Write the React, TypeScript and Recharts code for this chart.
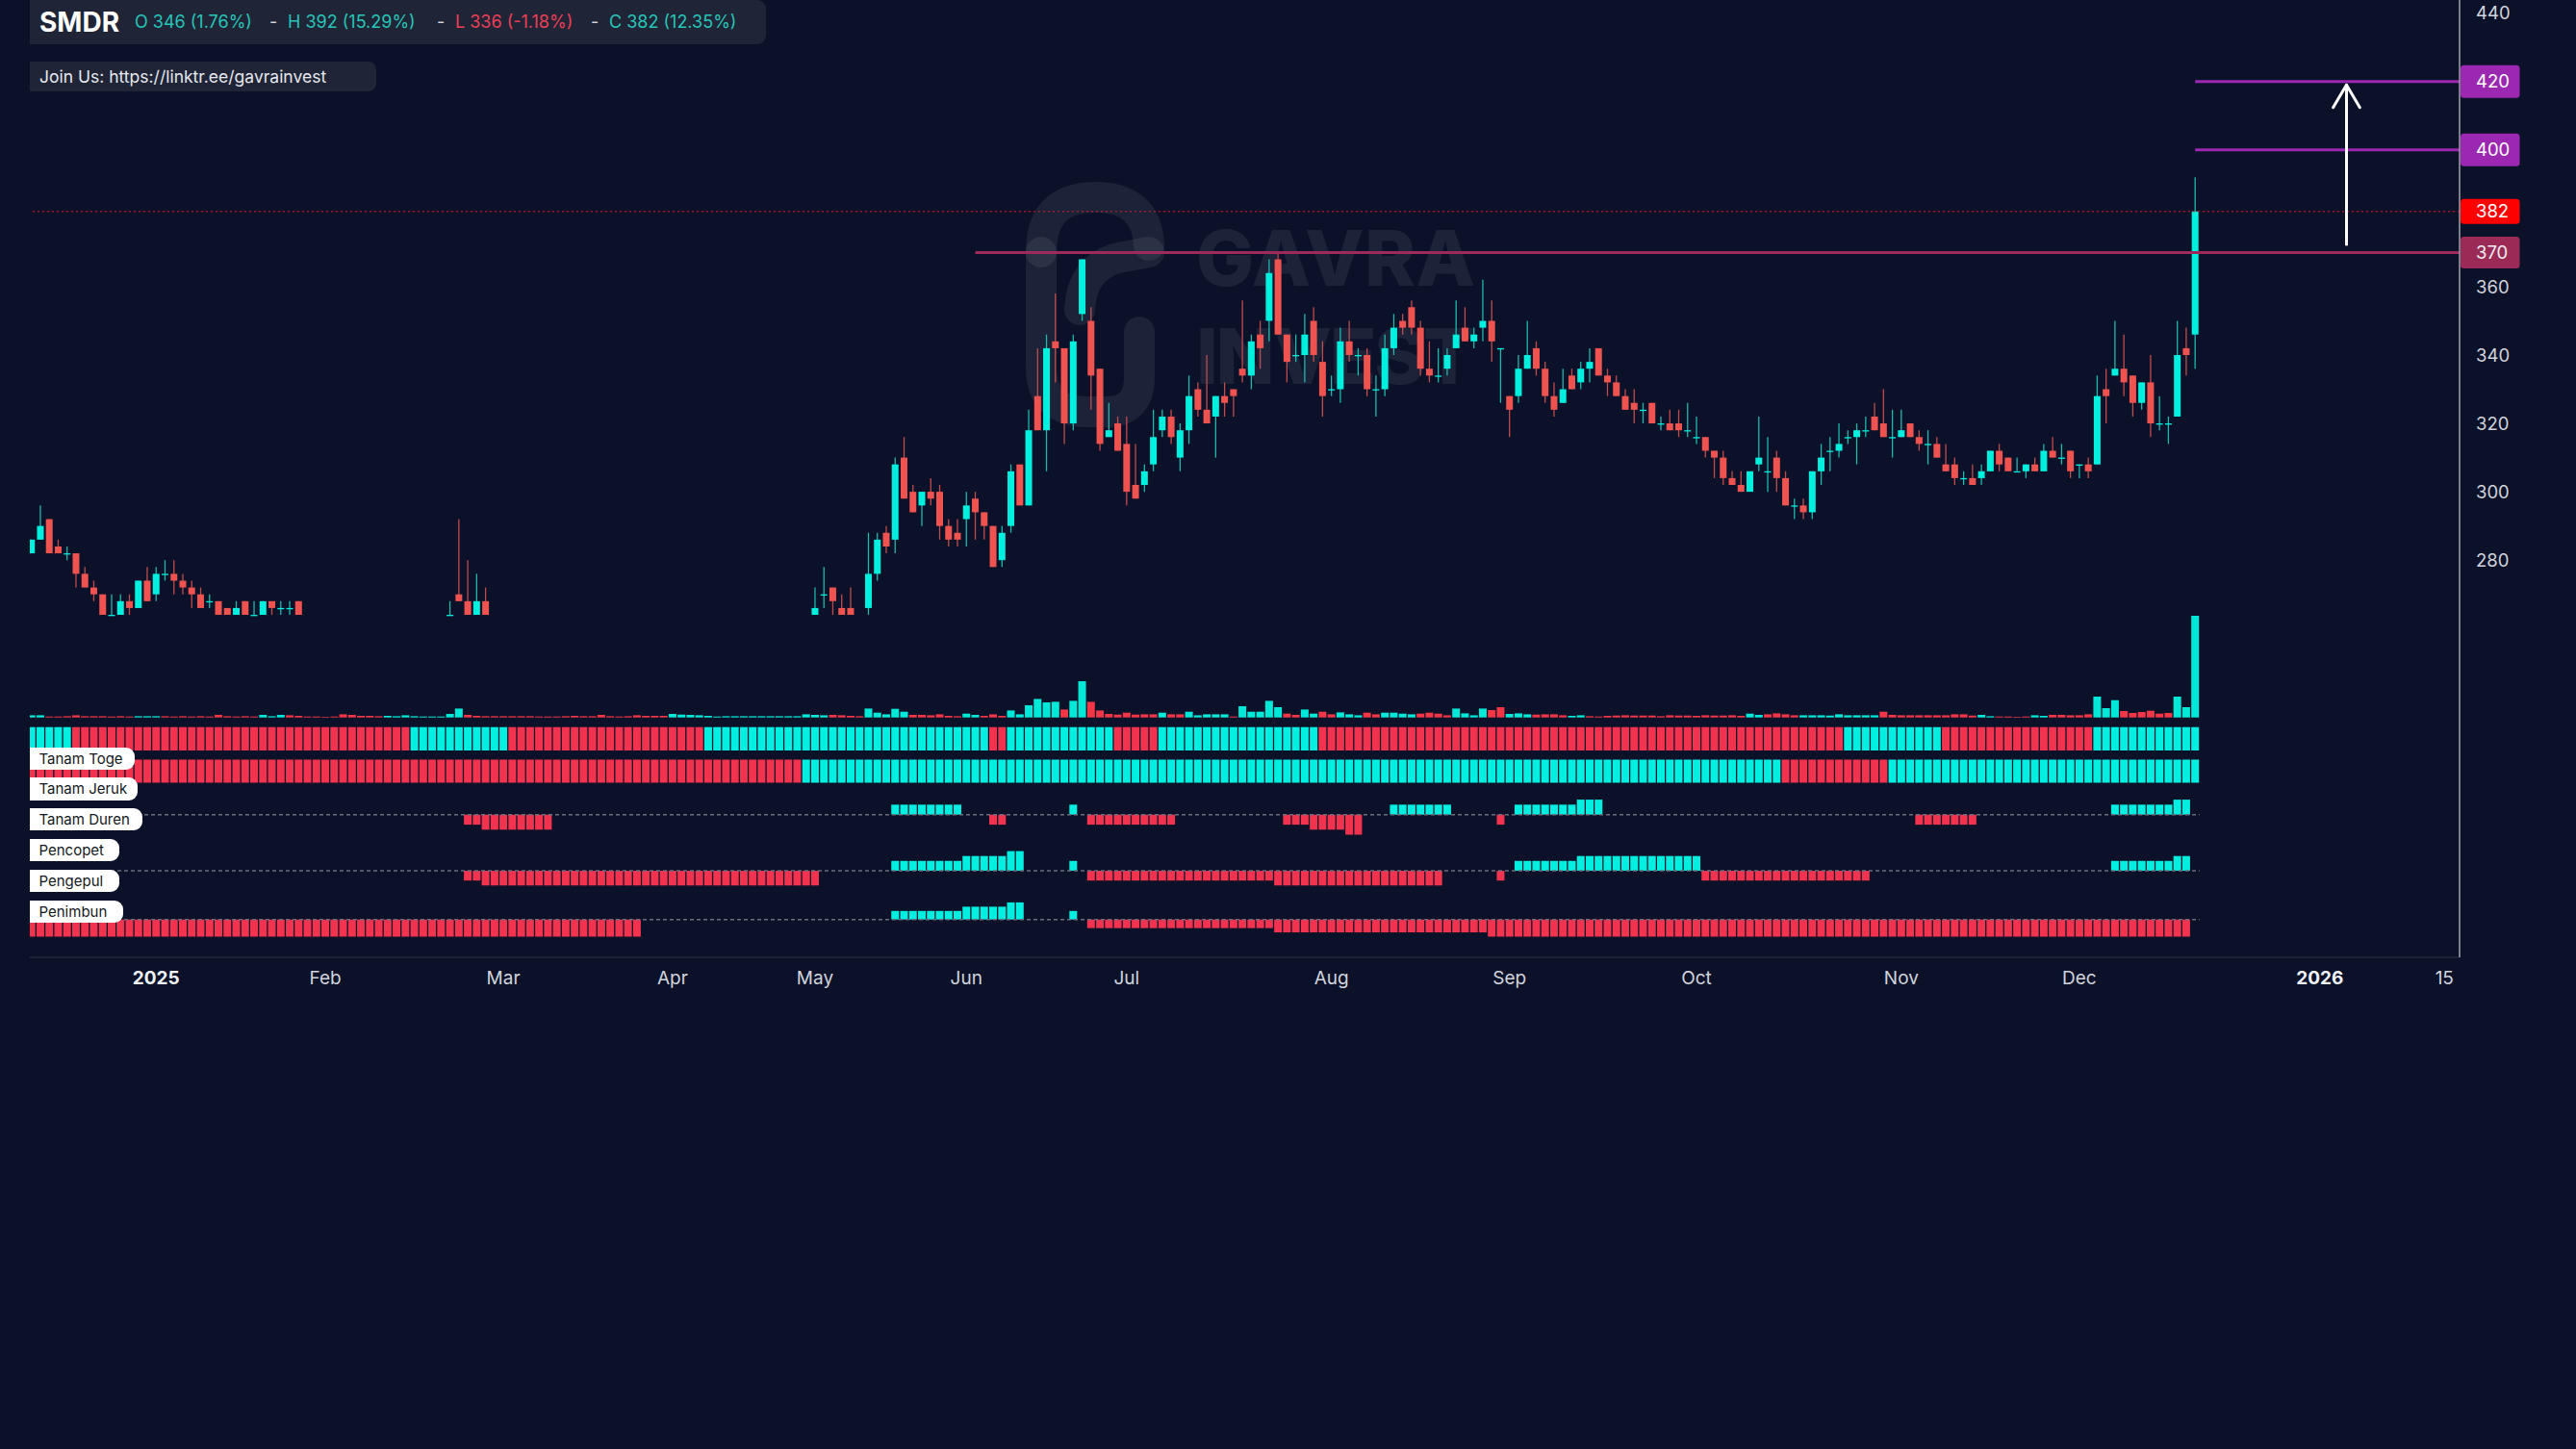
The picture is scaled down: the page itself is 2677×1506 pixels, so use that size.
import React from 'react';
import { ComposedChart, Bar, XAxis, YAxis, ReferenceLine } from 'recharts';

// ================= DATA =================
// x-axis: trading-bar index; month ticks
const X_TICKS = [14, 33, 53, 72, 88, 105, 123, 146, 166, 187, 210, 230, 257, 271];
const X_TICK_LABELS = ['2025', 'Feb', 'Mar', 'Apr', 'May', 'Jun', 'Jul', 'Aug', 'Sep', 'Oct', 'Nov', 'Dec', '2026', '15'];
const BOLD_TICKS = ['2025', '2026'];
const PRICE_TICKS = [280, 300, 320, 340, 360, 440];

// OHLC per bar: [open, high, low, close]; null = bar not drawn
const OHLC: (number[] | null)[] = [
  // 0-9
  [282,286,282,286],[286,296,286,290],[292,292,282,282],[284,286,282,282],[282,284,280,282],[282,282,272,276],[276,278,272,272],[272,274,268,270],[270,270,264,264],[264,270,264,264],
  // 10-19
  [264,270,264,268],[268,270,264,266],[266,274,266,274],[274,278,268,268],[270,278,268,276],[276,280,274,276],[276,280,270,274],[274,276,270,272],[272,274,266,270],[270,272,266,266],
  // 20-29
  [268,270,266,268],[268,268,264,264],[266,266,264,264],[264,268,264,266],[268,268,264,264],[264,268,264,264],[264,268,264,268],[268,268,264,266],[266,268,264,266],[266,268,264,266],
  // 30-39
  [268,268,264,264],null,null,null,null,null,null,null,null,null,
  // 40-49
  null,null,null,null,null,null,null,[264,268,264,264],[270,292,268,268],[268,280,264,264],
  // 50-59
  [264,276,264,268],[268,272,264,264],null,null,null,null,null,null,null,null,
  // 60-69
  null,null,null,null,null,null,null,null,null,null,
  // 70-79
  null,null,null,null,null,null,null,null,null,null,
  // 80-89
  null,null,null,null,null,null,null,null,[264,272,264,266],[270,278,266,270],
  // 90-99
  [272,272,264,268],[266,270,264,264],[266,272,264,264],null,[266,288,264,276],[276,288,274,286],[288,290,282,284],[286,310,282,308],[310,316,298,298],[300,302,294,294],
  // 100-109
  [296,300,290,300],[300,304,296,298],[300,302,286,290],[290,292,284,286],[288,292,284,286],[292,300,284,296],[298,300,286,294],[294,294,286,290],[290,290,278,278],[280,290,278,288],
  // 110-119
  [290,308,288,306],[308,308,296,296],[296,324,296,318],[328,342,318,318],[318,346,306,342],[344,358,332,342],[342,342,314,320],[320,346,318,344],[352,368,350,368],[350,354,324,334],
  // 120-129
  [336,336,312,314],[316,326,316,318],[320,322,312,312],[314,322,296,300],[302,314,298,298],[302,308,300,306],[308,324,306,316],[318,324,316,322],[322,324,314,316],[310,320,306,318],
  // 130-139
  [318,334,314,328],[330,332,322,324],[324,340,320,320],[322,328,310,328],[328,332,322,326],[330,330,322,328],[336,356,332,334],[334,346,330,344],[346,350,336,342],[350,368,344,364],
  // 140-149
  [368,370,346,346],[346,346,332,338],[340,346,338,340],[340,352,332,346],[350,354,338,340],[338,344,322,328],[330,334,328,330],[330,348,326,344],[344,350,338,340],[340,342,334,340],
  // 150-159
  [340,342,328,330],[330,334,322,330],[330,346,328,342],[342,352,340,348],[350,352,346,348],[354,356,346,348],[348,350,334,336],[336,344,332,334],[334,342,332,334],[336,342,334,340],
  // 160-169
  [342,356,342,346],[348,354,344,344],[344,348,342,346],[348,362,344,350],[350,356,338,344],[342,342,326,342],[328,328,316,324],[328,340,326,336],[336,350,336,340],[342,344,334,336],
  // 170-179
  [336,338,326,328],[328,332,322,324],[326,336,326,330],[334,336,330,330],[332,338,330,336],[336,342,332,338],[342,342,334,334],[334,336,328,332],[332,334,328,328],[328,330,324,324],
  // 180-189
  [326,330,320,324],[324,326,320,324],[326,326,320,320],[320,322,318,320],[320,324,318,318],[320,324,316,318],[318,326,316,318],[316,322,314,316],[316,316,310,312],[312,312,304,310],
  // 190-199
  [310,312,302,304],[304,306,302,302],[302,306,300,300],[300,306,300,306],[308,322,306,310],[306,316,300,306],[310,312,300,304],[304,306,296,296],[296,298,292,296],[296,298,292,294],
  // 200-209
  [294,306,292,306],[306,314,302,310],[312,316,306,312],[312,320,310,314],[316,318,314,316],[316,320,308,318],[318,322,316,318],[322,326,318,318],[320,330,316,316],[316,324,310,316],
  // 210-219
  [316,324,316,318],[320,320,316,316],[316,318,312,314],[314,318,308,314],[314,316,310,310],[308,314,306,306],[308,310,302,304],[304,306,302,304],[304,308,302,302],[304,308,302,306],
  // 220-229
  [306,312,306,312],[312,314,306,308],[310,310,306,306],[306,310,306,306],[306,308,304,308],[308,310,306,306],[306,314,306,312],[312,316,310,310],[310,314,308,310],[312,312,304,306],
  // 230-239
  [308,308,304,308],[308,310,304,306],[308,334,308,328],[330,336,320,328],[334,350,334,336],[336,346,328,332],[334,334,322,326],[326,332,324,332],[332,340,316,320],[320,328,318,320],
  // 240-243
  [320,322,314,320],[322,350,322,340],[342,348,334,340],[346,392,336,382],
];

// Volume (millions of shares) per bar
const VOLUME: number[] = [
  2.3,2.3,1.0,1.0,1.3,2.3,1.3,1.3,1.3,1.0,
  1.3,1.0,1.3,1.3,1.3,1.3,1.0,1.3,1.0,1.3,
  1.0,2.7,1.3,1.0,1.3,1.0,2.7,1.3,2.7,2.3,
  1.7,1.0,1.0,0.7,1.0,3.3,2.7,1.7,1.7,1.3,
  1.7,1.3,2.3,1.3,1.0,1.0,1.0,3.7,9.3,2.7,
  1.7,1.3,1.3,1.3,1.3,1.3,1.3,1.0,1.0,1.0,
  1.3,1.7,1.3,1.3,2.7,1.3,1.0,1.3,2.3,1.7,
  1.7,1.7,3.7,3.0,2.7,2.3,1.7,1.0,1.3,1.3,
  1.3,1.3,1.3,1.3,1.3,1.3,1.3,3.3,2.7,2.3,
  2.7,2.3,1.7,1.3,9.3,5.0,3.3,9.0,6.0,2.7,
  2.7,2.3,3.3,1.7,1.3,4.0,2.7,1.7,3.3,1.7,
  7.3,3.3,12.7,19.3,15.7,16.3,8.3,17.3,37.7,16.3,
  7.3,3.7,3.0,5.0,3.0,3.3,3.3,5.0,3.3,3.3,
  6.0,2.3,3.3,3.3,3.3,1.0,11.7,6.0,6.0,17.3,
  10.7,4.0,2.7,8.3,4.0,6.0,3.3,5.3,3.3,2.3,
  5.0,3.3,5.0,5.0,4.0,3.3,4.0,5.0,4.0,2.3,
  9.3,4.3,2.3,9.3,7.7,10.7,3.7,4.3,3.3,3.0,
  3.3,3.3,2.3,1.7,2.3,1.3,1.0,1.7,2.0,2.3,
  2.0,2.0,2.0,1.3,2.3,2.0,2.0,1.7,2.3,2.0,
  2.0,2.3,1.7,4.0,2.7,3.3,4.3,3.3,2.3,2.3,
  2.3,2.3,2.0,3.3,2.3,2.3,2.3,2.3,6.0,2.7,
  2.3,2.3,2.3,2.3,2.3,2.3,3.3,3.3,2.0,2.7,
  1.3,1.0,1.0,0.7,1.0,2.3,1.7,2.7,2.7,2.3,
  2.3,3.3,21.7,9.7,18.0,6.7,4.7,5.7,7.0,4.0,
  4.7,21.7,10.7,105.7,
];
// volume colour per bar: u = up (teal), d = down (red)
const VOLUME_DIR = [
  'uudddddddd','dduuuddddd','dddddduuud','dddddddddd','uuuuuuuuud',
  'dddddddddd','dddddddddd','dduuuuuuuu','uuuuuuuuuu','dddduuuuud',
  'ddddduuddd','uuuuuuduud','dddddddudd','uuuuuduuuu','udduudduuu',
  'dduuuudddd','uuuudduuud','ddduuddddd','dddddddddd','ddduuddddu',
  'uuuuuuuudd','dddddddddu','udddduuddd','dduuuddddd','duuu',
].join('');

// Tanam Toge / Tanam Jeruk state per bar: + bullish, - bearish
const TANAM_TOGE = [
  '+++++-----','----------','----------','----------','---+++++++',
  '++++------','----------','------++++','++++++++++','++++++++++',
  '++++++++--','++++++++++','++-----+++','++++++++++','+++++-----',
  '----------','----------','----------','----------','----------',
  '----++++++','+++++-----','----------','--++++++++','++++',
].join('');
const TANAM_JERUK = [
  '----------','----------','----------','----------','----------',
  '----------','----------','----------','-------+++','++++++++++',
  '++++++++++','++++++++++','++++++++++','++++++++++','++++++++++',
  '++++++++++','++++++++++','++++++++++','++++++++++','+++++++---',
  '---------+','++++++++++','++++++++++','++++++++++','++++',
].join('');

// Tanam Duren histogram
const TANAM_DUREN: number[] = [
  0,0,0,0,0,0,0,0,0,0,
  0,0,0,0,0,0,0,0,0,0,
  0,0,0,0,0,0,0,0,0,0,
  0,0,0,0,0,0,0,0,0,0,
  0,0,0,0,0,0,0,0,0,-2,
  -2,-3,-3,-3,-3,-3,-3,-3,-3,0,
  0,0,0,0,0,0,0,0,0,0,
  0,0,0,0,0,0,0,0,0,0,
  0,0,0,0,0,0,0,0,0,0,
  0,0,0,0,0,0,0,2,2,2,
  2,2,2,2,2,0,0,0,-2,-2,
  0,0,0,0,0,0,0,2,0,-2,
  -2,-2,-2,-2,-2,-2,-2,-2,-2,0,
  0,0,0,0,0,0,0,0,0,0,
  0,-2,-2,-2,-3,-3,-3,-3,-4,-4,
  0,0,0,2,2,2,2,2,2,2,
  0,0,0,0,0,-2,0,2,2,2,
  2,2,2,2,3,3,3,0,0,0,
  0,0,0,0,0,0,0,0,0,0,
  0,0,0,0,0,0,0,0,0,0,
  0,0,0,0,0,0,0,0,0,0,
  0,0,-2,-2,-2,-2,-2,-2,-2,0,
  0,0,0,0,0,0,0,0,0,0,
  0,0,0,0,2,2,2,2,2,2,
  2,3,3,0,
];

// Pengepul histogram
const PENGEPUL: number[] = [
  0,0,0,0,0,0,0,0,0,0,
  0,0,0,0,0,0,0,0,0,0,
  0,0,0,0,0,0,0,0,0,0,
  0,0,0,0,0,0,0,0,0,0,
  0,0,0,0,0,0,0,0,0,-2,
  -2,-3,-3,-3,-3,-3,-3,-3,-3,-3,
  -3,-3,-3,-3,-3,-3,-3,-3,-3,-3,
  -3,-3,-3,-3,-3,-3,-3,-3,-3,-3,
  -3,-3,-3,-3,-3,-3,-3,-3,-3,0,
  0,0,0,0,0,0,0,2,2,2,
  2,2,2,2,2,3,3,3,3,3,
  4,4,0,0,0,0,0,2,0,-2,
  -2,-2,-2,-2,-2,-2,-2,-2,-2,-2,
  -2,-2,-2,-2,-2,-2,-2,-2,-2,-2,
  -3,-3,-3,-3,-3,-3,-3,-3,-3,-3,
  -3,-3,-3,-3,-3,-3,-3,-3,-3,0,
  0,0,0,0,0,-2,0,2,2,2,
  2,2,2,2,3,3,3,3,3,3,
  3,3,3,3,3,3,3,3,-2,-2,
  -2,-2,-2,-2,-2,-2,-2,-2,-2,-2,
  -2,-2,-2,-2,-2,-2,-2,0,0,0,
  0,0,0,0,0,0,0,0,0,0,
  0,0,0,0,0,0,0,0,0,0,
  0,0,0,0,2,2,2,2,2,2,
  2,3,3,0,
];

// Penimbun histogram
const PENIMBUN: number[] = [
  -4,-4,-4,-4,-4,-4,-4,-4,-4,-4,
  -4,-4,-4,-4,-4,-4,-4,-4,-4,-4,
  -4,-4,-4,-4,-4,-4,-4,-4,-4,-4,
  -4,-4,-4,-4,-4,-4,-4,-4,-4,-4,
  -4,-4,-4,-4,-4,-4,-4,-4,-4,-4,
  -4,-4,-4,-4,-4,-4,-4,-4,-4,-4,
  -4,-4,-4,-4,-4,-4,-4,-4,-4,0,
  0,0,0,0,0,0,0,0,0,0,
  0,0,0,0,0,0,0,0,0,0,
  0,0,0,0,0,0,0,2,2,2,
  2,2,2,2,2,3,3,3,3,3,
  4,4,0,0,0,0,0,2,0,-2,
  -2,-2,-2,-2,-2,-2,-2,-2,-2,-2,
  -2,-2,-2,-2,-2,-2,-2,-2,-2,-2,
  -3,-3,-3,-3,-3,-3,-3,-3,-3,-3,
  -3,-3,-3,-3,-3,-3,-3,-3,-3,-3,
  -3,-3,-3,-3,-4,-4,-4,-4,-4,-4,
  -4,-4,-4,-4,-4,-4,-4,-4,-4,-4,
  -4,-4,-4,-4,-4,-4,-4,-4,-4,-4,
  -4,-4,-4,-4,-4,-4,-4,-4,-4,-4,
  -4,-4,-4,-4,-4,-4,-4,-4,-4,-4,
  -4,-4,-4,-4,-4,-4,-4,-4,-4,-4,
  -4,-4,-4,-4,-4,-4,-4,-4,-4,-4,
  -4,-4,-4,-4,-4,-4,-4,-4,-4,-4,
  -4,-4,-4,0,
];

// price levels
const LAST_PRICE = 382;
const SUPPORT_LEVEL = 370;
const SUPPORT_START = 106;
const TARGET_LEVELS = [420, 400];
const TARGET_START = 243;
const ARROW_X = 260;
const ARROW_FROM = 372;
const ARROW_TO = 419;

// header texts
const SYMBOL = 'SMDR';
const OHLC_TEXT = [
  { t: 'O 346 (1.76%)', up: true, left: 140 },
  { t: 'H 392 (15.29%)', up: true, left: 299 },
  { t: 'L 336 (-1.18%)', up: false, left: 473 },
  { t: 'C 382 (12.35%)', up: true, left: 633 },
];
const DASH_POS = [283, 457, 617];
const JOIN_TEXT = 'Join Us: https://linktr.ee/gavrainvest';
const IND_LABELS = [
  { t: 'Tanam Toge', top: 776.7, w: 108.5 },
  { t: 'Tanam Jeruk', top: 808.3, w: 112.2 },
  { t: 'Tanam Duren', top: 840, w: 117.3 },
  { t: 'Pencopet', top: 872, w: 93 },
  { t: 'Pengepul', top: 904, w: 93 },
  { t: 'Penimbun', top: 936, w: 96.8 },
];

// ================= STYLE / LAYOUT =================
const BG = '#0a1128';
const PANEL = '#1f2437';
const TEAL = '#00f0df';
const RED = '#ef5350';
const TEAL_WICK = '#1fb8ad';
const RED_WICK = '#c24c4d';
const IND_TEAL = '#00efe0';
const IND_RED = '#f2334f';
const VOL_TEAL = '#00e8d8';
const VOL_RED = '#f23645';
const AXIS_COLOR = '#9fa3ad';
const SEP_COLOR = '#2f3445';
const TXT = '#d1d4dc';
const FONT = 'Inter, "Noto Sans", Roboto, sans-serif';
const WM = 'rgba(255,255,255,0.075)';

const CHART_W = 2677;
const CHART_H = 1045;
const X_MIN = -0.184;
const X_MAX = 272.7;
const PRICE_DOMAIN = [163.81, 443.86];
const VOL_DOMAIN = [-249.3, 745.7];
const TOGE_DOMAIN = [-8.848, 32.099];
const JERUK_DOMAIN = [-7.5625, 33.896];
const DUREN_DOMAIN = [-28.52, 162.83];
const PENGEPUL_DOMAIN = [-17.65, 177.45];
const PENIMBUN_DOMAIN = [-8.831, 214.76];

const rows = OHLC.map((c, i) => ({
  i,
  range: c ? [c[2], c[1]] : null,
  o: c ? c[0] : null,
  h: c ? c[1] : null,
  l: c ? c[2] : null,
  c: c ? c[3] : null,
  vol: VOLUME[i],
  volUp: VOLUME_DIR[i] === 'u',
  band: 1,
  toge: TANAM_TOGE[i] === '+' ? 1 : -1,
  jeruk: TANAM_JERUK[i] === '+' ? 1 : -1,
  duren: TANAM_DUREN[i],
  pengepul: PENGEPUL[i],
  penimbun: PENIMBUN[i],
}));

const norm = (y: number, h: number) => ({ top: Math.min(y, y + h), hh: Math.abs(h) });

const CandleShape = (props: any) => {
  const { x, y, width, height, payload } = props;
  if (!payload || payload.o == null || !isFinite(y) || !isFinite(height)) return <g />;
  const { o, h, l, c } = payload;
  const { top, hh } = norm(y, height);
  const ppu = h > l ? hh / (h - l) : 0;
  const yO = top + (h - o) * ppu;
  const yC = top + (h - c) * ppu;
  const up = c >= o;
  const cx = x + width / 2;
  const bw = 7;
  const bTop = Math.min(yO, yC);
  const bH = Math.max(Math.abs(yO - yC), 1.3);
  return (
    <g>
      <line x1={cx} x2={cx} y1={top} y2={top + hh} stroke={up ? TEAL_WICK : RED_WICK} strokeWidth={1.3} />
      <rect x={cx - bw / 2} y={bTop} width={bw} height={bH} fill={up ? TEAL : RED} />
    </g>
  );
};

const VolShape = (props: any) => {
  const { x, y, width, height, payload } = props;
  if (!payload || !isFinite(y) || !isFinite(height) || !payload.vol) return <g />;
  const { top, hh } = norm(y, height);
  const cx = x + width / 2;
  const w = 8;
  return <rect x={cx - w / 2} y={top} width={w} height={hh} fill={payload.volUp ? VOL_TEAL : VOL_RED} />;
};

const bandShape = (key: string) => (props: any) => {
  const { x, y, width, height, payload } = props;
  if (!payload || !isFinite(y) || !isFinite(height)) return <g />;
  const { top, hh } = norm(y, height);
  const cx = x + width / 2;
  const w = 8;
  return <rect x={cx - w / 2} y={top} width={w} height={hh} fill={payload[key] > 0 ? IND_TEAL : IND_RED} />;
};

const histShape = (key: string) => (props: any) => {
  const { x, y, width, height, payload } = props;
  const v = payload ? payload[key] : 0;
  if (!v || !isFinite(y) || !isFinite(height)) return <g />;
  const { top, hh } = norm(y, height);
  const cx = x + width / 2;
  const w = 8;
  return <rect x={cx - w / 2} y={top} width={w} height={hh} fill={v > 0 ? IND_TEAL : IND_RED} />;
};

const DateTick = (props: any) => {
  const { x, y, payload } = props;
  const idx = X_TICKS.indexOf(payload.value);
  const label = idx >= 0 ? X_TICK_LABELS[idx] : '';
  const bold = BOLD_TICKS.includes(label);
  return (
    <text x={x} y={y} dy="0.71em" textAnchor="middle" fontSize={19} fontFamily={FONT}
      fontWeight={bold ? 700 : 400} fill={bold ? '#f0f3fa' : TXT}>{label}</text>
  );
};

const PriceTick = (props: any) => {
  const { x, y, payload } = props;
  return (
    <text x={x} y={y} dy="0.36em" textAnchor="start" fontSize={18.5} fontFamily={FONT} fill={TXT}>{payload.value}</text>
  );
};

const AxisTag = (props: any) => {
  const { viewBox, text, fill, color, h } = props;
  if (!viewBox) return null;
  const xr = viewBox.x + viewBox.width;
  const yc = viewBox.y;
  return (
    <g>
      <rect x={xr + 1} y={yc - h / 2} width={61.5} height={h} rx={3.5} fill={fill} />
      <text x={xr + 17} y={yc} dy="0.36em" fontSize={18.5} fontFamily={FONT} fill={color}>{text}</text>
    </g>
  );
};

const hiddenX = (id: string) => (
  <XAxis key={id} xAxisId={id} type="number" dataKey="i" domain={[X_MIN, X_MAX]} allowDataOverflow hide />
);
const hiddenY = (id: string, domain: number[]) => (
  <YAxis key={id} yAxisId={id} type="number" domain={domain} allowDataOverflow hide />
);

const Watermark = () => (
  <svg width={2677} height={1506} style={{ position: 'absolute', left: 0, top: 0 }}>
    <g fill="none" stroke={WM} strokeWidth={32} strokeLinecap="round">
      <path d="M 1082 262 L 1082 382 Q 1082 428 1130 428 L 1150 428 Q 1184 428 1184 392 L 1184 345" />
      <path d="M 1082 262 Q 1082 205 1138 205 Q 1192 205 1194 255" />
      <path d="M 1122 322 Q 1124 278 1162 268 L 1194 262" />
    </g>
    <text x={1243} y={297} fontSize={80} fontWeight={800} fontFamily={FONT} fill={WM} textLength={290} lengthAdjust="spacing">GAVRA</text>
    <text x={1243} y={399} fontSize={80} fontWeight={800} fontFamily={FONT} fill={WM} textLength={290} lengthAdjust="spacing">INVEST</text>
  </svg>
);

const Header = () => (
  <>
    <div style={{ position: 'absolute', left: 31, top: 0, width: 765, height: 46, background: PANEL, borderRadius: '0 9px 9px 0' }} />
    <div style={{ position: 'absolute', left: 41, top: 0, height: 46, lineHeight: '46px', fontSize: 28, fontWeight: 700, color: '#ffffff', fontFamily: FONT, whiteSpace: 'nowrap' }}>{SYMBOL}</div>
    {OHLC_TEXT.map((o) => (
      <div key={o.t} style={{ position: 'absolute', left: o.left, top: 0, height: 46, lineHeight: '46px', fontSize: 18, color: o.up ? '#27c5b8' : '#ec3f55', fontFamily: FONT, whiteSpace: 'nowrap' }}>{o.t}</div>
    ))}
    {DASH_POS.map((x) => (
      <div key={x} style={{ position: 'absolute', left: x - 3, top: 0, height: 46, lineHeight: '46px', fontSize: 18, color: '#d1d4dc', fontFamily: FONT }}>-</div>
    ))}
    <div style={{ position: 'absolute', left: 31, top: 64, width: 360, height: 31, background: PANEL, borderRadius: '0 8px 8px 0' }} />
    <div style={{ position: 'absolute', left: 41, top: 64, height: 31, lineHeight: '31px', fontSize: 17.5, color: '#e6e8ee', fontFamily: FONT, whiteSpace: 'nowrap' }}>{JOIN_TEXT}</div>
  </>
);

const IndicatorLabels = () => (
  <>
    {IND_LABELS.map((l) => (
      <div key={l.t} style={{ position: 'absolute', left: 31, top: l.top, width: l.w, height: 23.3, background: '#ffffff', borderRadius: '0 9px 9px 0', boxSizing: 'border-box', paddingLeft: 9.5, lineHeight: '23.3px', fontSize: 15, color: '#131722', fontFamily: FONT, whiteSpace: 'nowrap' }}>{l.t}</div>
    ))}
  </>
);

const baseline = (xId: string, yId: string) => (
  <ReferenceLine key={'bl' + yId} xAxisId={xId} yAxisId={yId} ifOverflow="visible"
    segment={[{ x: X_MIN, y: 0 }, { x: TARGET_START + 0.5, y: 0 }]}
    stroke="#6a6e7c" strokeWidth={1.5} strokeDasharray="4 3" />
);

export default function App() {
  return (
    <div style={{ position: 'fixed', left: 0, top: 0, width: 2677, height: 1506, background: BG, overflow: 'hidden', fontFamily: FONT }}>
      <Watermark />
      <div style={{ position: 'absolute', left: 0, top: 0 }}>
        <ComposedChart width={CHART_W} height={CHART_H} data={rows} margin={{ top: 0, right: 0, bottom: 0, left: 31 }}>
          <XAxis xAxisId="xc" type="number" dataKey="i" domain={[X_MIN, X_MAX]} allowDataOverflow
            ticks={X_TICKS} interval={0} tick={<DateTick />} tickSize={0} tickMargin={15} tickLine={false}
            axisLine={{ stroke: SEP_COLOR, strokeWidth: 1 }} height={50} />
          {hiddenX('xv')}
          {hiddenX('xt')}
          {hiddenX('xj')}
          {hiddenX('xd')}
          {hiddenX('xp')}
          {hiddenX('xn')}
          <YAxis yAxisId="price" orientation="right" type="number" width={121} domain={PRICE_DOMAIN} allowDataOverflow
            ticks={PRICE_TICKS} interval={0} tick={<PriceTick />} tickSize={0} tickMargin={17} tickLine={false}
            axisLine={{ stroke: AXIS_COLOR, strokeWidth: 1.5 }} />
          {hiddenY('vol', VOL_DOMAIN)}
          {hiddenY('toge', TOGE_DOMAIN)}
          {hiddenY('jeruk', JERUK_DOMAIN)}
          {hiddenY('duren', DUREN_DOMAIN)}
          {hiddenY('pengepul', PENGEPUL_DOMAIN)}
          {hiddenY('penimbun', PENIMBUN_DOMAIN)}

          {baseline('xd', 'duren')}
          {baseline('xp', 'pengepul')}
          {baseline('xn', 'penimbun')}

          <Bar xAxisId="xv" yAxisId="vol" dataKey="vol" barSize={9.25} shape={VolShape} isAnimationActive={false} />
          <Bar xAxisId="xt" yAxisId="toge" dataKey="band" barSize={9.25} shape={bandShape('toge')} isAnimationActive={false} />
          <Bar xAxisId="xj" yAxisId="jeruk" dataKey="band" barSize={9.25} shape={bandShape('jeruk')} isAnimationActive={false} />
          <Bar xAxisId="xd" yAxisId="duren" dataKey="duren" barSize={9.25} shape={histShape('duren')} isAnimationActive={false} />
          <Bar xAxisId="xp" yAxisId="pengepul" dataKey="pengepul" barSize={9.25} shape={histShape('pengepul')} isAnimationActive={false} />
          <Bar xAxisId="xn" yAxisId="penimbun" dataKey="penimbun" barSize={9.25} shape={histShape('penimbun')} isAnimationActive={false} />
          <Bar xAxisId="xc" yAxisId="price" dataKey="range" barSize={9.25} shape={CandleShape} isAnimationActive={false} />

          <ReferenceLine xAxisId="xc" yAxisId="price" y={LAST_PRICE} ifOverflow="visible" stroke="#e3192b" strokeWidth={1} strokeDasharray="2 3"
            label={(p: any) => <AxisTag {...p} text={String(LAST_PRICE)} fill="#ff0000" color="#ffffff" h={26} />} />
          <ReferenceLine xAxisId="xc" yAxisId="price" ifOverflow="visible"
            segment={[{ x: SUPPORT_START, y: SUPPORT_LEVEL }, { x: X_MAX, y: SUPPORT_LEVEL }]}
            stroke="#9e2a5c" strokeWidth={3}
            label={(p: any) => <AxisTag {...p} text={String(SUPPORT_LEVEL)} fill="#9b2b56" color="#eeeef2" h={33} />} />
          {TARGET_LEVELS.map((lv) => (
            <ReferenceLine key={lv} xAxisId="xc" yAxisId="price" ifOverflow="visible"
              segment={[{ x: TARGET_START, y: lv }, { x: X_MAX, y: lv }]}
              stroke="#9c27b0" strokeWidth={3}
              label={(p: any) => <AxisTag {...p} text={String(lv)} fill="#9c27b0" color="#ffffff" h={34} />} />
          ))}
          <ReferenceLine xAxisId="xc" yAxisId="price" ifOverflow="visible"
            segment={[{ x: ARROW_X, y: ARROW_FROM }, { x: ARROW_X, y: ARROW_TO }]}
            stroke="#ffffff" strokeWidth={3} />
          <ReferenceLine xAxisId="xc" yAxisId="price" ifOverflow="visible"
            segment={[{ x: ARROW_X - 1.5, y: ARROW_TO - 6.6 }, { x: ARROW_X, y: ARROW_TO }]}
            stroke="#ffffff" strokeWidth={3} strokeLinecap="round" />
          <ReferenceLine xAxisId="xc" yAxisId="price" ifOverflow="visible"
            segment={[{ x: ARROW_X + 1.5, y: ARROW_TO - 6.6 }, { x: ARROW_X, y: ARROW_TO }]}
            stroke="#ffffff" strokeWidth={3} strokeLinecap="round" />
        </ComposedChart>
      </div>
      <Header />
      <IndicatorLabels />
    </div>
  );
}
